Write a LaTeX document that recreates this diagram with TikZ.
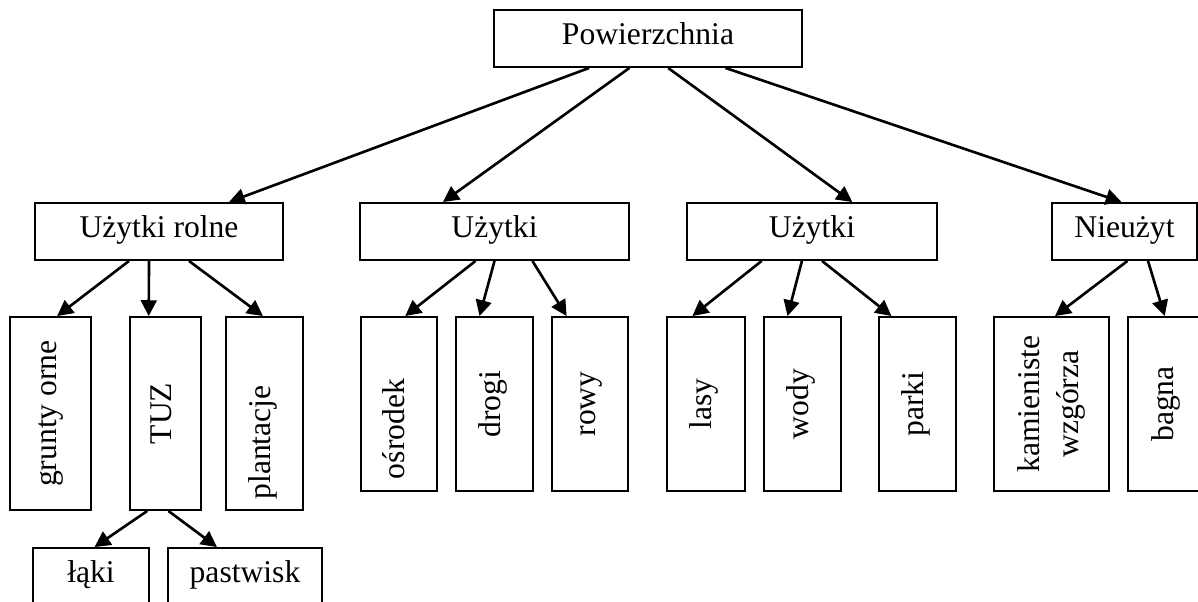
\documentclass[tikz,border=0pt]{standalone}
\usepackage{fontspec}
\setmainfont{Liberation Serif}
\usetikzlibrary{arrows.meta}
\usetikzlibrary{calc}

\begin{document}
\begin{tikzpicture}[x=0.02cm,y=-0.02cm,
    hbox/.style={draw,line width=1.1pt,inner sep=0pt,minimum height=1.14cm,
      font=\fontsize{18}{20}\selectfont,text height=0.9em,text depth=0.22em},
    vbox/.style={hbox,rotate=90},
    arr/.style={line width=1.5pt,-{Triangle[length=9pt,width=9pt]}}]
  \useasboundingbox (0,0) rectangle (1198,602);
  \clip (0,0) rectangle (1198,602);
  %% top
  \node[hbox,minimum width=6.16cm] (pow) at (648,38.5) {Powierzchnia};
  %% second row
  \node[hbox,minimum width=4.96cm] (rolne) at (159,231.5) {Użytki rolne};
  \node[hbox,minimum width=5.38cm] (uzyt1) at (494.5,231.5) {Użytki};
  \node[hbox,minimum width=5.0cm] (uzyt2) at (812,231.5) {Użytki};
  \node[hbox,minimum width=2.9cm] (nieuz) at (1124.5,231.5) {Nieużyt};
  %% third row (rotated)
  \node[vbox,minimum width=3.86cm,minimum height=1.62cm] (grunty) at (50.5,413.5) {grunty orne};
  \node[vbox,minimum width=3.86cm,minimum height=1.42cm] (tuz) at (165.5,413.5) {TUZ};
  \node[vbox,minimum width=3.86cm,minimum height=1.54cm] (plant) at (264.5,413.5) {plantacje\hspace*{1.16cm}};
  \node[vbox,minimum width=3.48cm,minimum height=1.52cm] (osrod) at (399,404) {ośrodek\hspace*{1cm}};
  \node[vbox,minimum width=3.48cm,minimum height=1.54cm] (drogi) at (494.5,404) {drogi};
  \node[vbox,minimum width=3.48cm,minimum height=1.52cm] (rowy) at (590,404) {rowy};
  \node[vbox,minimum width=3.48cm,minimum height=1.56cm] (lasy) at (706,404) {lasy};
  \node[vbox,minimum width=3.48cm,minimum height=1.54cm] (wody) at (802.5,404) {wody};
  \node[vbox,minimum width=3.48cm,minimum height=1.54cm] (parki) at (917.5,404) {parki};
  \node[vbox,minimum width=3.48cm,minimum height=2.3cm,align=center,
        font=\fontsize{18}{22}\selectfont,text height={},text depth={}] (kamien) at (1051.5,404) {kamieniste\\wzgórza};
  \node[vbox,minimum width=3.48cm,minimum height=1.6cm] (bagna) at (1168,404) {bagna};
  %% under TUZ
  \node[hbox,minimum width=2.32cm] (laki) at (91,576.5) {łąki};
  \node[hbox,minimum width=3.08cm] (pastw) at (245,576.5) {pastwisk};

  \draw[arr] ($(pow.south west)!.31!(pow.south east)$) -- ($(rolne.north west)!.78!(rolne.north east)$);
  \draw[arr] ($(pow.south west)!.44!(pow.south east)$) -- ($(uzyt1.north west)!.31!(uzyt1.north east)$);
  \draw[arr] ($(pow.south west)!.565!(pow.south east)$) -- ($(uzyt2.north west)!.66!(uzyt2.north east)$);
  \draw[arr] ($(pow.south west)!.75!(pow.south east)$) -- ($(nieuz.north west)!.48!(nieuz.north east)$);

  %% rotated boxes: top edge runs north east -> south east
  \draw[arr] ($(rolne.south west)!.38!(rolne.south east)$) -- ($(grunty.north east)!.58!(grunty.south east)$);
  \draw[arr] ($(rolne.south west)!.46!(rolne.south east)$) -- ($(tuz.north east)!.27!(tuz.south east)$);
  \draw[arr] ($(rolne.south west)!.62!(rolne.south east)$) -- ($(plant.north east)!.48!(plant.south east)$);

  \draw[arr] ($(uzyt1.south west)!.43!(uzyt1.south east)$) -- ($(osrod.north east)!.58!(osrod.south east)$);
  \draw[arr] ($(uzyt1.south west)!.50!(uzyt1.south east)$) -- ($(drogi.north east)!.31!(drogi.south east)$);
  \draw[arr] ($(uzyt1.south west)!.64!(uzyt1.south east)$) -- ($(rowy.north east)!.20!(rowy.south east)$);

  \draw[arr] ($(uzyt2.south west)!.30!(uzyt2.south east)$) -- ($(lasy.north east)!.33!(lasy.south east)$);
  \draw[arr] ($(uzyt2.south west)!.46!(uzyt2.south east)$) -- ($(wody.north east)!.31!(wody.south east)$);
  \draw[arr] ($(uzyt2.south west)!.54!(uzyt2.south east)$) -- ($(parki.north east)!.17!(parki.south east)$);

  \draw[arr] ($(nieuz.south west)!.52!(nieuz.south east)$) -- ($(kamien.north east)!.53!(kamien.south east)$);
  \draw[arr] ($(nieuz.south west)!.66!(nieuz.south east)$) -- ($(bagna.north east)!.46!(bagna.south east)$);

  %% bottom edge of TUZ runs north west -> south west
  \draw[arr] ($(tuz.north west)!.25!(tuz.south west)$) -- ($(laki.north west)!.53!(laki.north east)$);
  \draw[arr] ($(tuz.north west)!.54!(tuz.south west)$) -- ($(pastw.north west)!.32!(pastw.north east)$);
\end{tikzpicture}
\end{document}
